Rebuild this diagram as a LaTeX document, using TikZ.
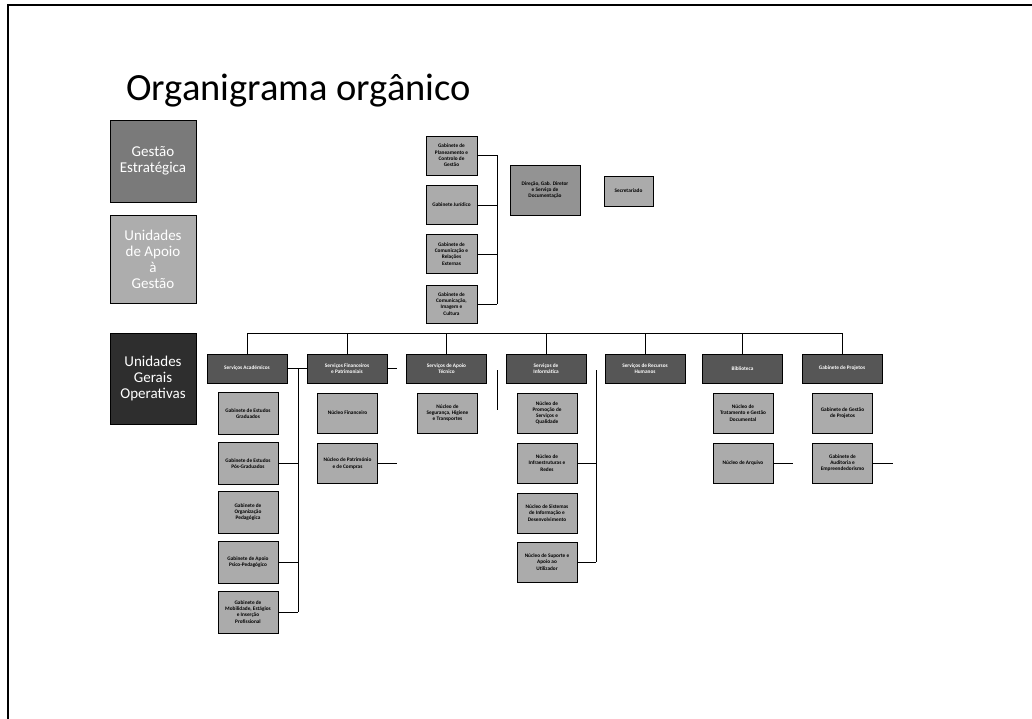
\documentclass[tikz,border=0pt]{standalone}
\usepackage{fontspec}
\setmainfont{Carlito}
\begin{document}
\begin{tikzpicture}[x=1pt,y=-1pt,
  lbox/.style={draw=black,line width=0.8pt,inner sep=1pt,align=center,text=white,
    font=\fontsize{15}{16}\selectfont,minimum width=86pt},
  kid/.style={draw=black,line width=0.7pt,fill=kidgray,inner sep=1pt,align=center,
    font=\fontsize{5.3}{6.3}\selectfont\bfseries,minimum width=60pt,minimum height=41pt},
  hdr/.style={draw=black,line width=0.8pt,fill=hdrgray,text=white,inner sep=1pt,align=center,
    font=\fontsize{5.3}{6.3}\selectfont\bfseries,minimum width=80pt,minimum height=29pt},
  topk/.style={kid,minimum width=51pt,minimum height=39pt},
  wire/.style={line width=0.9pt,draw=black}]
\definecolor{kidgray}{HTML}{ABABAB}
\definecolor{hdrgray}{HTML}{565656}
\definecolor{midgray}{HTML}{939393}
\useasboundingbox (0,0) rectangle (1032,719);
\fill[white] (0,0) rectangle (1032,719);
% frame
\draw[line width=2pt] (8,719) -- (8,5) -- (1032,5);
% title
\node[anchor=base west,font=\fontsize{38.5}{42}\selectfont,inner sep=0pt] (title) at (126,101) {Organigrama orgânico};
% left boxes
\node[lbox,fill=black!52,minimum height=82pt] (L1) at (153,161) {Gestão\\Estratégica};
\node[lbox,fill=black!32,minimum height=88pt] (L2) at (153,259) {Unidades\\de Apoio\\à\\Gestão};
\node[lbox,fill=black!82,minimum height=91pt] (L3) at (153,378.5) {Unidades\\Gerais\\Operativas};
% top cluster
\node[topk] (A1) at (451.5,155.5) {Gabinete de\\Planeamento e\\Controlo de\\Gestão};
\node[topk] (A2) at (451.5,205) {Gabinete Jurídico};
\node[topk] (A3) at (451.5,254) {Gabinete de\\Comunicação e\\Relações\\Externas};
\node[topk,minimum height=38pt] (A4) at (451.5,304) {Gabinete de\\Comunicação,\\Imagem e\\Cultura};
\node[kid,fill=midgray,minimum width=70pt,minimum height=50pt] (B) at (545,190) {Direção, Gab. Diretor\\e Serviço de\\Documentação};
\node[kid,minimum width=49pt,minimum height=30pt] (C) at (628.5,191) {Secretariado};
\coordinate (abusT) at (497,155.5);
\coordinate (abusB) at (497,304);
\draw[wire] (abusT) -- (abusB);
\foreach \n in {A1,A2,A3,A4} \draw[wire] (\n.east) -- (\n.east -| abusT);
% headers
\node[hdr] (H1) at (247,368.5) {Serviços Académicos};
\node[hdr] (H2) at (347,368.5) {Serviços Financeiros\\e Patrimoniais};
\node[hdr] (H3) at (446.5,368.5) {Serviços de Apoio\\Técnico};
\node[hdr] (H4) at (546,368.5) {Serviços de\\Informática};
\node[hdr] (H5) at (645,368.5) {Serviços de Recursos\\Humanos};
\node[hdr] (H6) at (742.5,368.5) {Biblioteca};
\node[hdr] (H7) at (842,368.5) {Gabinete de Projetos};
% bus
\coordinate (busL) at (247,333);
\coordinate (busR) at (842,333);
\draw[wire] (busL) -- (busR);
\foreach \n in {H1,H2,H3,H4,H5,H6,H7} \draw[wire] (\n.north |- busL) -- (\n.north);
% column 1
\node[kid,minimum height=42pt] (K11) at (248,413.5) {Gabinete de Estudos\\Graduados};
\node[kid,minimum height=42pt] (K12) at (248,463.5) {Gabinete de Estudos\\Pós-Graduados};
\node[kid,minimum height=42pt] (K13) at (248,512) {Gabinete de\\Organização\\Pedagógica};
\node[kid,minimum height=42pt] (K14) at (248,562) {Gabinete de Apoio\\Psico-Pedagógico};
\node[kid,minimum height=42pt] (K15) at (248,612) {Gabinete de\\Mobilidade, Estágios\\e Inserção\\Profissional};
\coordinate (v1T) at (298,368.5);
\coordinate (v1B) at (298,612);
\draw[wire] (H1.east) -- (H2.west);
\draw[wire] (v1T) -- (v1B);
\foreach \n in {K12,K14,K15} \draw[wire] (\n.east) -- (\n.east -| v1T);
% column 2
\node[kid,minimum height=40pt] (K21) at (347.5,413) {Núcleo Financeiro};
\node[kid,minimum height=40pt] (K22) at (347.5,463.5) {Núcleo de Património\\e de Compras};
\coordinate (s2a) at (397,368.5);
\coordinate (s2b) at (397,463.5);
\draw[wire] (H2.east) -- (s2a);
\draw[wire] (K22.east) -- (s2b);
% column 3
\node[kid,minimum height=40pt] (K31) at (447.5,413) {Núcleo de\\Segurança, Higiene\\e Transportes};
\coordinate (s3a) at (497,370);
\coordinate (s3b) at (497,410);
\draw[wire] (s3a) -- (s3b);
% column 4
\node[kid,minimum height=40pt] (K41) at (547,413) {Núcleo de\\Promoção de\\Serviços e\\Qualidade};
\node[kid,minimum height=40pt] (K42) at (547,463) {Núcleo de\\Infraestruturas e\\Redes};
\node[kid,minimum height=40pt] (K43) at (547,513) {Núcleo de Sistemas\\de Informação e\\Desenvolvimento};
\node[kid,minimum height=40pt] (K44) at (547,562) {Núcleo de Suporte e\\Apoio ao\\Utilizador};
\coordinate (v4T) at (596,370);
\coordinate (v4B) at (596,562);
\draw[wire] (v4T) -- (v4B);
\foreach \n in {K42,K44} \draw[wire] (\n.east) -- (\n.east -| v4T);
% column 6
\node[kid,minimum height=40pt] (K61) at (743,413) {Núcleo de\\Tratamento e Gestão\\Documental};
\node[kid,minimum height=40pt] (K62) at (743,463) {Núcleo de Arquivo};
\coordinate (s6) at (793,463);
\draw[wire] (K62.east) -- (s6);
% column 7
\node[kid,minimum height=40pt] (K71) at (842.5,413) {Gabinete de Gestão\\de Projetos};
\node[kid,minimum height=40pt] (K72) at (842.5,463) {Gabinete de\\Auditoria e\\Empreendedorismo};
\coordinate (s7) at (893,463);
\draw[wire] (K72.east) -- (s7);
\end{tikzpicture}
\end{document}
